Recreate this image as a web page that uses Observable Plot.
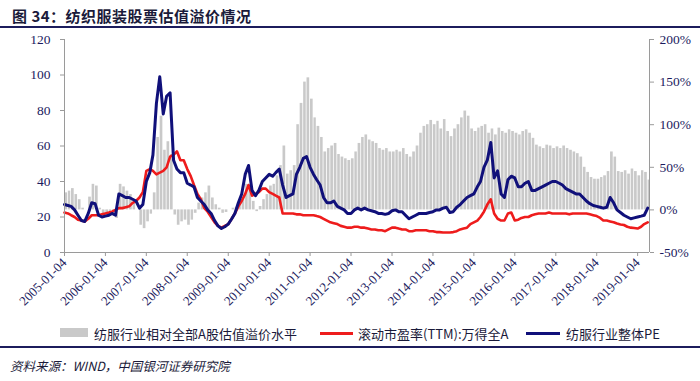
<!DOCTYPE html>
<html><head><meta charset="utf-8">
<script src="https://cdn.jsdelivr.net/npm/d3@7"></script>
<script src="https://cdn.jsdelivr.net/npm/@observablehq/plot@0.6"></script>
<style>
body{margin:0;background:#fff;}
#wrap{position:relative;width:700px;height:381px;overflow:hidden;font-family:"Noto Sans CJK SC",sans-serif;}
#title{position:absolute;left:12px;top:5px;font-size:15px;font-weight:bold;color:#1a1a3a;letter-spacing:0.5px;}
.rule{position:absolute;left:0;width:700px;height:2px;background:#1c1c5c;}
#chart{position:absolute;left:0;top:30px;}
.lg{position:absolute;top:324px;font-size:13px;color:#1a1a3a;white-space:nowrap;}
.sw{position:absolute;}
#src{position:absolute;left:10px;top:356px;font-size:12.5px;font-style:italic;color:#1a1a3a;}
</style></head>
<body><div id="wrap">
<div id="title">图 34：纺织服装股票估值溢价情况</div>
<div class="rule" style="top:26px"></div>
<div id="chart"></div>
<div class="sw" style="left:60px;top:328px;width:28px;height:9px;background:#c9c9c9"></div>
<div class="lg" style="left:94px">纺服行业相对全部A股估值溢价水平</div>
<div class="sw" style="left:320px;top:332px;width:33px;height:2.5px;background:#ee1c1c"></div>
<div class="lg" style="left:358px">滚动市盈率(TTM):万得全A</div>
<div class="sw" style="left:526px;top:332px;width:34px;height:2.5px;background:#10107a"></div>
<div class="lg" style="left:566px">纺服行业整体PE</div>
<div class="rule" style="top:346px"></div>
<div id="src">资料来源：WIND，中国银河证券研究院</div>
</div>
<script>
const startDate = "2005-01-04";
const endDate = "2019-04-20";
const xTickLabels = ["2005-01-04","2006-01-04","2007-01-04","2008-01-04","2009-01-04","2010-01-04","2011-01-04","2012-01-04","2013-01-04","2014-01-04","2015-01-04","2016-01-04","2017-01-04","2018-01-04","2019-01-04"];
const leftTicks = [0,20,40,60,80,100,120];
const pctTicks = [-50,0,50,100,150,200];

// 纺服行业整体PE (monthly, 2005-01 .. 2019-04)
const textilePE = [
 27,26.5,26,24,21,18,17.5,22,28,27.5,21,20,
 20.5,21,22,21,33,32,31,31,30,29,25,27,
 40,45,55,84,99,78,88,90,52,47,45,45,
 39,38,37,31,29,27,24,22,18,15,13.5,14.5,
 16,19,22,28,33,44,49,35,32,35,40,42,
 44,43,45,47,38,31,32,33,44,48,53,54,
 48,44,41,38,31,28,28,29,26,25,24,22,
 22,24,25,24,25,24,23.5,23,22,22,21.5,22,
 23.5,24,23,23,21,19,20,21,22,22,22,22.5,
 23,24,24,25,25.5,22.5,23,25.5,27,29,31,32,
 33,37,40,48,52,62,42,46,33,31,41,43,
 42,37,37,39,40,35,35,36,37,38,39,40,
 40,39,38,36,35,34,33,33,31,29,27.5,26.5,
 26,25.5,25,25.5,31,28,24,22.5,21,20,19,19.5,
 20,20.5,21,25];

// 滚动市盈率(TTM):万得全A
const allAPE = [
 22.5,22,21,20,18.5,18,17.5,19,21,21,21,21.5,
 22,22.5,23,24,25,25,25.5,26,28,29,31,34,
 46,47,46,44,45,46,48,54,55,57,52,52,
 47,43,38,33,30,25,23,20,17,15,14,15,
 16,19,22,26,29,33,38,32,33,34,36,36,
 34,33,32,31,22,22,22,22,21.5,21.5,21,21,
 21,21,20.5,20,19,18,17,16.5,16,15,14.5,14,
 14,14.5,14.5,14,14,13.5,13,13,12.5,12.5,12,13,
 14,14,13.5,13,13,12,12,12.5,12.5,12.5,12.5,12,
 12,11.5,11.5,11.3,11.3,11.3,11.5,12,13,13.5,14,16,
 17,18,20,23,27,30,22,19,18,18,22,22.5,
 18,18.5,19.5,20,20,21,21.5,22,22,22,22.5,22,
 22,22,22,22,21.5,22,22,22,22,22,21.5,21,
 20.5,19.5,18,18,17.5,17,16.3,15.8,15.5,14.5,14,13.8,
 13.5,14.5,16,17];

// 纺服行业相对全部A股估值溢价水平 (%)
const premiumPct = [
 20,22,25,18,12,2,0,15,30,28,2,-6,
 -6,-7,-4,-10,30,27,22,18,8,0,-18,-22,
 -14,-5,20,85,110,70,80,65,-6,-18,-14,-12,
 -18,-12,-4,8,14,20,28,14,6,2,-4,-3,
 0,2,3,8,14,30,28,10,-2,4,12,18,
 28,30,40,52,75,42,46,52,100,125,150,155,
 130,108,98,85,68,72,75,78,65,62,60,58,
 60,68,78,85,88,82,80,78,72,70,72,68,
 68,70,68,72,65,62,68,75,90,98,100,105,
 100,104,95,106,92,86,95,100,108,116,110,95,
 92,96,98,100,90,95,88,96,92,90,94,92,
 90,88,92,94,90,84,76,74,72,76,75,72,
 74,72,75,72,70,68,66,62,50,44,38,36,
 36,38,40,45,68,62,45,44,46,42,48,45,
 40,46,44,35];

// right axis: -50%..200% shares the left 0..120 range
const toLeft = p => 24 + p * 0.48;
const fromLeft = v => Math.round((v - 24) / 0.48);

const t0 = new Date(startDate);
const dates = textilePE.map((_, i) => d3.utcMonth.offset(t0, i));
const rows = textilePE.map((v, i) => ({
  date: dates[i], next: d3.utcMonth.offset(t0, i + 1),
  textile: v, allA: allAPE[i], prem: premiumPct[i]
}));

const axisColor = "#9a9a9a";
const labelColor = "#1b1b5e";
const serif = "'Liberation Serif','Times New Roman',serif";

const chart = Plot.plot({
  width: 700, height: 290,
  marginLeft: 64, marginRight: 51, marginTop: 9, marginBottom: 68,
  style: {fontFamily: serif, background: "transparent", overflow: "visible"},
  x: {type: "utc", domain: [new Date(startDate), new Date(endDate)]},
  y: {domain: [0, 120]},
  marks: [
    Plot.rectY(rows, {x1: "date", x2: "next", y1: toLeft(0), y2: d => toLeft(d.prem),
      fill: "#c9c9c9", insetLeft: 0.4, insetRight: 0.4, clip: true}),
    Plot.lineY(rows, {x: "date", y: "allA", stroke: "#ee1c1c", strokeWidth: 2.6}),
    Plot.lineY(rows, {x: "date", y: "textile", stroke: "#10107a", strokeWidth: 3}),
    Plot.ruleX([new Date(startDate)], {stroke: axisColor}),
    Plot.ruleX([new Date(endDate)], {stroke: axisColor}),
    Plot.ruleY([0], {stroke: axisColor}),
    Plot.axisY(leftTicks, {anchor: "left", tickSize: 4, tickPadding: 10, stroke: axisColor,
      fill: labelColor, fontSize: 13.5, fontFamily: serif, label: null}),
    Plot.axisY(pctTicks.map(toLeft), {anchor: "right", tickSize: 4, tickPadding: 6, stroke: axisColor,
      fill: labelColor, fontSize: 13.5, fontFamily: serif, label: null,
      tickFormat: v => fromLeft(v) + "%"}),
    Plot.axisX(xTickLabels.map(s => new Date(s)), {tickSize: 4, tickPadding: 4, tickRotate: -45,
      stroke: axisColor, fill: labelColor, fontSize: 13, fontFamily: serif, label: null,
      tickFormat: d3.utcFormat("%Y-%m-%d")})
  ]
});
document.getElementById("chart").append(chart);
</script>
</body></html>
